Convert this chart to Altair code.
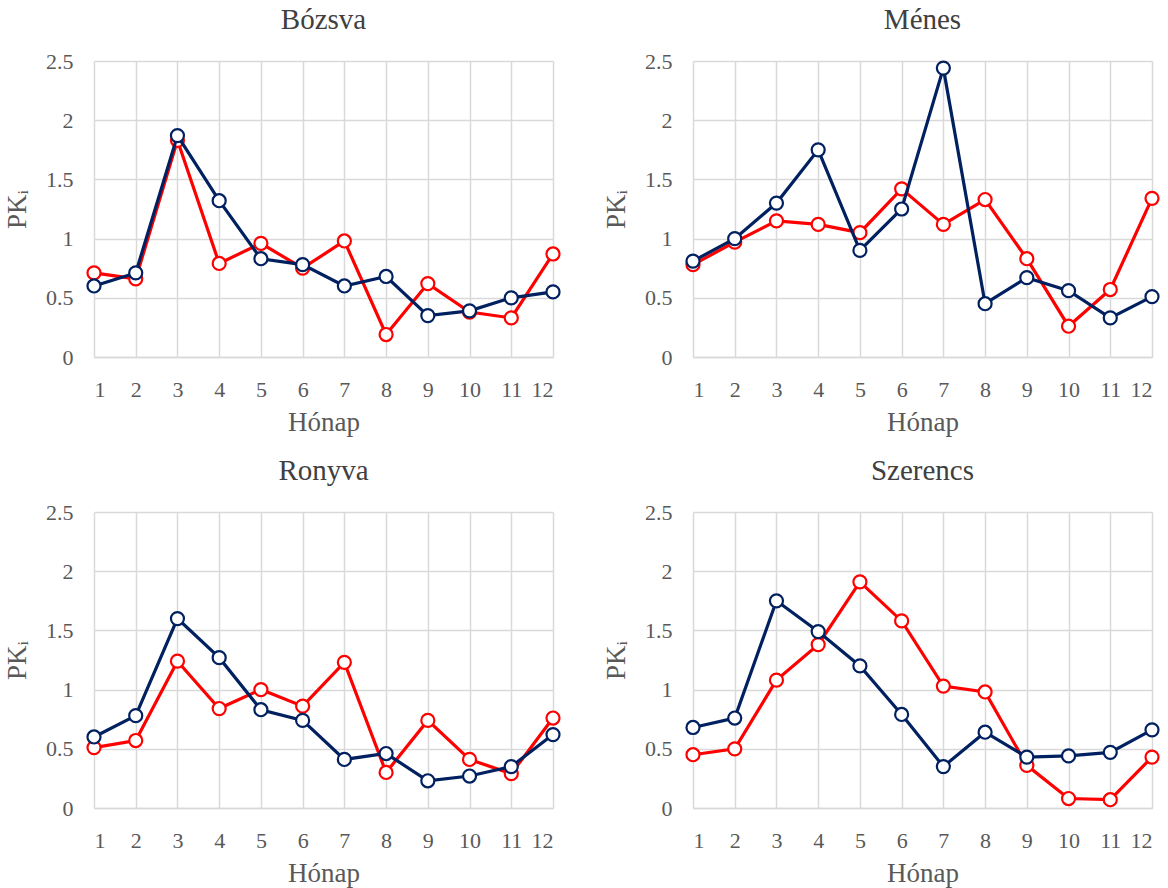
import altair as alt
import pandas as pd

months = list(range(1, 13))
stations = ["Bózsva", "Ménes", "Ronyva", "Szerencs"]

# navy series
bozsva_navy = [0.60, 0.71, 1.87, 1.32, 0.83, 0.78, 0.60, 0.68, 0.35, 0.39, 0.50, 0.55]
menes_navy = [0.81, 1.00, 1.30, 1.75, 0.90, 1.25, 2.44, 0.45, 0.67, 0.56, 0.33, 0.51]
ronyva_navy = [0.60, 0.78, 1.60, 1.27, 0.83, 0.74, 0.41, 0.46, 0.23, 0.27, 0.35, 0.62]
szerencs_navy = [0.68, 0.76, 1.75, 1.49, 1.20, 0.79, 0.35, 0.64, 0.43, 0.44, 0.47, 0.66]

# red series
bozsva_red = [0.71, 0.66, 1.83, 0.79, 0.96, 0.75, 0.98, 0.19, 0.62, 0.38, 0.33, 0.87]
menes_red = [0.78, 0.97, 1.15, 1.12, 1.05, 1.42, 1.12, 1.33, 0.83, 0.26, 0.57, 1.34]
ronyva_red = [0.51, 0.57, 1.24, 0.84, 1.00, 0.86, 1.23, 0.30, 0.74, 0.41, 0.29, 0.76]
szerencs_red = [0.45, 0.50, 1.08, 1.38, 1.91, 1.58, 1.03, 0.98, 0.36, 0.08, 0.07, 0.43]

navy = {"Bózsva": bozsva_navy, "Ménes": menes_navy, "Ronyva": ronyva_navy, "Szerencs": szerencs_navy}
red = {"Bózsva": bozsva_red, "Ménes": menes_red, "Ronyva": ronyva_red, "Szerencs": szerencs_red}

y_ticks = [0, 0.5, 1, 1.5, 2, 2.5]

NAVY = "#002060"
RED = "#FF0000"
FONT = "Liberation Serif"


def panel(name):
    df = pd.DataFrame({"Hónap": months, "navy": navy[name], "red": red[name]})
    base = alt.Chart(df)
    x = alt.X("Hónap:Q",
              scale=alt.Scale(domain=[1, 12], nice=False, zero=False),
              axis=alt.Axis(values=months, title="Hónap", grid=True, ticks=False,
                            labelPadding=22, titlePadding=9, domain=True,
                            domainColor="#d9d9d9", domainWidth=1.5))

    def series(col, color):
        y = alt.Y(f"{col}:Q",
                  scale=alt.Scale(domain=[0, 2.5], nice=False),
                  axis=alt.Axis(values=y_ticks, title="PKᵢ", format="~g", grid=True,
                                ticks=False, domain=False, labelPadding=21,
                                titlePadding=14))
        line = base.mark_line(color=color, strokeWidth=3.2).encode(x=x, y=y)
        pts = base.mark_point(shape="circle", filled=False, fill="white", fillOpacity=1,
                              stroke=color, strokeWidth=2.2, size=170, opacity=1).encode(x=x, y=y)
        return line + pts

    return alt.layer(series("red", RED), series("navy", NAVY)).properties(
        width=459, height=296,
        title=alt.TitleParams(name, fontSize=29, font=FONT, fontWeight="normal",
                              color="#404040", offset=15))


row1 = alt.hconcat(panel("Bózsva"), panel("Ménes"), spacing=38)
row2 = alt.hconcat(panel("Ronyva"), panel("Szerencs"), spacing=38)
chart = alt.vconcat(row1, row2, spacing=22).configure(
    background="white", padding={"left": 3, "top": 6, "right": 5, "bottom": 5}
).configure_axis(
    labelFont=FONT, titleFont=FONT, labelFontSize=22, titleFontSize=27,
    labelColor="#595959", titleColor="#595959", titleFontWeight="normal",
    gridColor="#d9d9d9", gridWidth=1.5
).configure_view(stroke=None)

chart.save("out.html", embed_options={"renderer": "svg", "actions": False})
